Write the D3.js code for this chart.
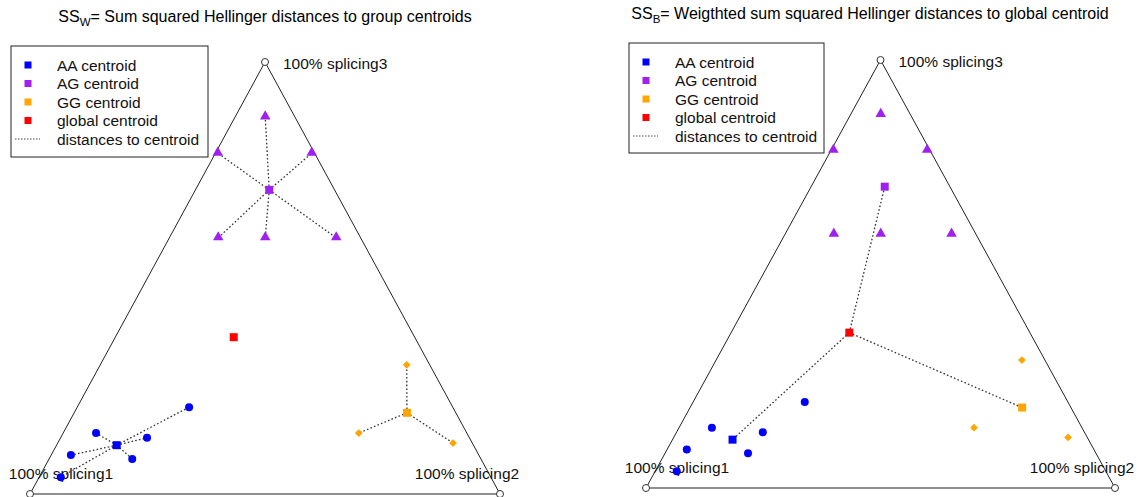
<!DOCTYPE html>
<html>
<head>
<meta charset="utf-8">
<script src="https://cdn.jsdelivr.net/npm/d3@7"></script>
<style>
  html, body { margin: 0; padding: 0; background: #fff; }
  svg { display: block; font-family: "Liberation Sans", Arial, sans-serif; }
</style>
</head>
<body>
<svg id="chart" width="1142" height="497"></svg>
<script>
// Compositions [splicing1, splicing2, splicing3] for each genotype group
const aaPoints = [
  [0.561, 0.238, 0.201],
  [0.789, 0.070, 0.141],
  [0.686, 0.184, 0.130],
  [0.868, 0.042, 0.090],
  [0.742, 0.177, 0.081],
  [0.915, 0.046, 0.039]
];
const agPoints = [
  [0.063, 0.064, 0.873],
  [0.206, 0.005, 0.789],
  [0.006, 0.205, 0.789],
  [0.303, 0.104, 0.593],
  [0.204, 0.204, 0.593],
  [0.052, 0.355, 0.593]
];
const ggPoints = [
  [0.049, 0.652, 0.299],
  [0.230, 0.629, 0.141],
  [0.041, 0.841, 0.118]
];
// Group centroids and the global centroid
const groupNames = ["AA", "AG", "GG"];
const groupCentroids = [
  [0.759, 0.128, 0.113],
  [0.139, 0.157, 0.704],
  [0.104, 0.708, 0.188]
];
const globalCentroid = [0.385, 0.252, 0.363];
const vertexLabels = ["100% splicing1", "100% splicing2", "100% splicing3"];
const legendLabels = ["AA centroid", "AG centroid", "GG centroid", "global centroid", "distances to centroid"];

const colors = { AA: "#0000FF", AG: "#A020F0", GG: "#FFA500", global: "#FF0000" };
const groupPoints = { AA: aaPoints, AG: agPoints, GG: ggPoints };

const svg = d3.select("#chart");

const panels = [
  { a: [30, 494], b: [500, 494], c: [265, 62], mode: "within",
    title: ["SS", "W", "= Sum squared Hellinger distances to group centroids"], titleX: 265, titleY: 22,
    legend: { x: 11, y: 46, w: 197, h: 111 } },
  { a: [646, 488], b: [1115, 488], c: [881, 60], mode: "between",
    title: ["SS", "B", "= Weigthted sum squared Hellinger distances to global centroid"], titleX: 870, titleY: 19,
    legend: { x: 629, y: 43, w: 195, h: 110 } }
];

const triSym = d3.symbol().type(d3.symbolTriangle).size(48);
const sqSym = d3.symbol().type(d3.symbolSquare).size(64);
const diaSym = d3.symbol().type(d3.symbolSquare).size(30);

panels.forEach(p => {
  const g = svg.append("g");
  const x = d3.scaleLinear().domain([0, 1]).range([p.a[0], p.b[0]]);
  const y = d3.scaleLinear().domain([0, 1]).range([p.a[1], p.c[1]]);
  const px = d => x(d[1] + d[2] / 2);
  const py = d => y(d[2]);

  // Title with subscript
  const t = g.append("text").attr("x", p.titleX).attr("y", p.titleY)
    .attr("text-anchor", "middle").attr("font-size", 16).attr("fill", "#000");
  t.append("tspan").text(p.title[0]);
  t.append("tspan").attr("font-size", 11.5).attr("dy", 4).text(p.title[1]);
  t.append("tspan").attr("dy", -4).text(p.title[2]);

  // Simplex outline
  const verts = [[1, 0, 0], [0, 1, 0], [0, 0, 1]];
  g.append("path")
    .attr("d", d3.line().x(px).y(py)(verts.concat([verts[0]])))
    .attr("fill", "none").attr("stroke", "#222").attr("stroke-width", 1);
  g.selectAll(".vtx").data(verts).join("circle")
    .attr("cx", px).attr("cy", py).attr("r", 3.5)
    .attr("fill", "#fff").attr("stroke", "#333").attr("stroke-width", 1);

  // Vertex labels
  const lab = [
    { v: verts[0], dx: 31, dy: -21, anchor: "middle" },
    { v: verts[1], dx: -33, dy: -21, anchor: "middle" },
    { v: verts[2], dx: 18, dy: 1, anchor: "start" }
  ];
  g.selectAll(".vlab").data(lab).join("text")
    .attr("x", d => px(d.v) + d.dx).attr("y", d => py(d.v) + d.dy)
    .attr("dominant-baseline", "central").attr("text-anchor", d => d.anchor)
    .attr("font-size", 15.5).attr("fill", "#111")
    .text((d, i) => vertexLabels[i]);

  // Distance segments
  const segs = [];
  if (p.mode === "within") {
    groupNames.forEach((k, i) => groupPoints[k].forEach(pt => segs.push([groupCentroids[i], pt])));
  } else {
    groupCentroids.forEach(c => segs.push([globalCentroid, c]));
  }
  g.selectAll(".seg").data(segs).join("line")
    .attr("x1", d => px(d[0])).attr("y1", d => py(d[0]))
    .attr("x2", d => px(d[1])).attr("y2", d => py(d[1]))
    .attr("stroke", "#333").attr("stroke-width", 1.3).attr("stroke-dasharray", "1.6,2.2");

  // Observations
  g.selectAll(".aa").data(aaPoints).join("circle")
    .attr("cx", px).attr("cy", py).attr("r", 4).attr("fill", colors.AA);
  g.selectAll(".ag").data(agPoints).join("path")
    .attr("d", triSym).attr("transform", d => `translate(${px(d)},${py(d) - 0.5})`).attr("fill", colors.AG);
  g.selectAll(".gg").data(ggPoints).join("path")
    .attr("d", diaSym).attr("transform", d => `translate(${px(d)},${py(d)}) rotate(45)`).attr("fill", colors.GG);

  // Centroids
  g.selectAll(".cen").data(groupCentroids).join("path")
    .attr("d", sqSym).attr("transform", d => `translate(${px(d)},${py(d)})`)
    .attr("fill", (d, i) => colors[groupNames[i]]);
  g.append("path").attr("d", sqSym)
    .attr("transform", `translate(${px(globalCentroid)},${py(globalCentroid)})`)
    .attr("fill", colors.global);

  // Legend
  const L = p.legend;
  const lg = g.append("g");
  lg.append("rect").attr("x", L.x).attr("y", L.y).attr("width", L.w).attr("height", L.h)
    .attr("fill", "#fff").attr("stroke", "#222").attr("stroke-width", 1);
  const legColors = [colors.AA, colors.AG, colors.GG, colors.global];
  legendLabels.forEach((txt, i) => {
    const cy = L.y + 19 + i * 18.5;
    if (i < 4) {
      lg.append("rect").attr("x", L.x + 13.5).attr("y", cy - 3.5).attr("width", 7).attr("height", 7)
        .attr("fill", legColors[i]);
    } else {
      lg.append("line").attr("x1", L.x + 4).attr("x2", L.x + 29).attr("y1", cy).attr("y2", cy)
        .attr("stroke", "#444").attr("stroke-width", 1).attr("stroke-dasharray", "1.5,1.5");
    }
    lg.append("text").attr("x", L.x + 46).attr("y", cy).attr("dominant-baseline", "central")
      .attr("font-size", 15.5).attr("fill", "#111").text(txt);
  });
});
</script>
</body>
</html>
